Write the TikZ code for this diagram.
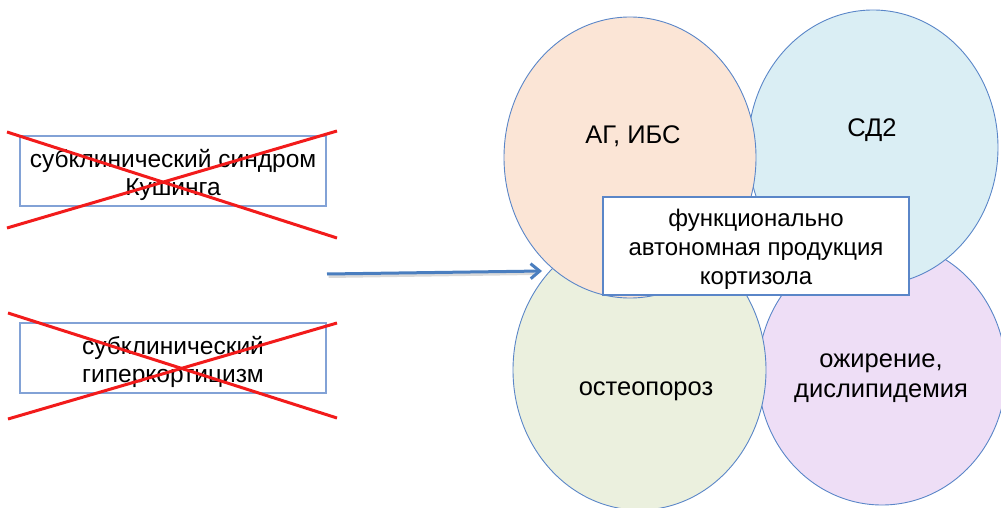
\documentclass[tikz,border=0pt]{standalone}
\usepackage{fontspec}
\setmainfont{Liberation Sans}
\usetikzlibrary{shapes.geometric,arrows.meta}
\definecolor{lineblue}{HTML}{5A86C8}
\definecolor{boxblue}{HTML}{82A2D6}
\definecolor{arrowblue}{HTML}{4A7EBF}
\definecolor{crossred}{HTML}{F21B1B}
\definecolor{orangefill}{HTML}{FBE5D6}
\definecolor{bluefill}{HTML}{DAEEF4}
\definecolor{greenfill}{HTML}{EBF0DE}
\definecolor{purplefill}{HTML}{EEDEF6}
\begin{document}
\begin{tikzpicture}[x=1pt,y=-1pt,
    circ/.style={ellipse,draw=lineblue,line width=0.9pt,inner sep=0pt},
    term/.style={draw=boxblue,line width=1.2pt,minimum width=306pt},
    termtext/.style={align=center,font=\fontsize{24.5}{28}\selectfont},
    lbl/.style={align=center,font=\fontsize{25.5}{30}\selectfont},
    cross/.style={draw=crossred,line width=3pt},
    flow/.style={draw=arrowblue,line width=3pt,-{Straight Barb[length=9pt,width=15pt]}}]
    \useasboundingbox (0,0) rectangle (1001,508);

    \node[circ,fill=purplefill,minimum width=248pt,minimum height=264pt] (obes) at (882,373) {};
    \node[circ,fill=bluefill,minimum width=250pt,minimum height=275pt] (dm) at (873,147.5) {};
    \node[circ,fill=greenfill,minimum width=253pt,minimum height=280pt] (osteo) at (639.5,370) {};
    \node[circ,fill=orangefill,minimum width=252pt,minimum height=281pt] (ag) at (630,157.5) {};

    \node[lbl,anchor=base] (agtext) at (633,143) {АГ, ИБС};
    \node[lbl,anchor=base] (dmtext) at (872,136) {СД2};
    \node[lbl,anchor=base] (osteotext) at (646,395) {остеопороз};
    \node[lbl] (obestext) at (881,378) {ожирение,\\дислипидемия};

    \node[term,draw=lineblue,fill=white,minimum height=98pt] (fap) at (756,246) {};
    \node[termtext,font=\fontsize{24}{29}\selectfont] (faptext) at (756,249)
      {функционально\\автономная продукция\\кортизола};

    \node[term,minimum height=70pt] (cushing) at (173,171) {};
    \node[termtext] (cushingtext) at (173,174.5) {субклинический синдром\\Кушинга};
    \node[term,minimum height=70pt] (hyper) at (173,358) {};
    \node[termtext] (hypertext) at (173,361.5) {субклинический\\гиперкортицизм};

    \draw[cross] (7,132) -- (337,238);
    \draw[cross] (7,228) -- (337,131);
    \draw[cross] (8,313) -- (337,418);
    \draw[cross] (8,419) -- (337,323);

    \coordinate (start) at (327,274);
    \coordinate (end) at (542,271);
    \draw[line width=3pt,black,opacity=0.15] ([shift={(1.5,2.5)}]start) -- ([shift={(-8,2.5)}]end);
    \draw[flow] (start) -- (end);
\end{tikzpicture}
\end{document}
